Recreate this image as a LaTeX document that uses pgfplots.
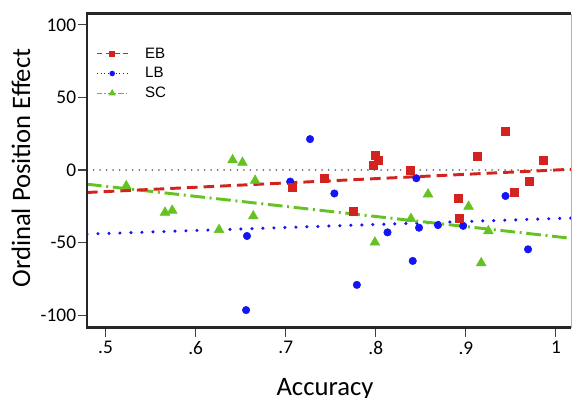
\documentclass[border=0pt]{standalone}
\usepackage{fontspec}
\setmainfont{Carlito}
\newfontfamily\legfont{Liberation Sans}
\usepackage{pgfplots}
\pgfplotsset{compat=1.18}
\definecolor{cEB}{RGB}{210,35,30}
\definecolor{cLB}{RGB}{20,20,245}
\definecolor{cSC}{RGB}{100,195,35}
\begin{document}
\begin{tikzpicture}
\begin{axis}[
  at={(0pt,0pt)}, anchor=south west,
  scale only axis, width=363pt, height=235.5pt,
  xmin=0.4794, xmax=1.0167, ymin=-108.6, ymax=107.9,
  clip mode=individual,
  axis line style={draw=none},
  xtick={0.5,0.6,0.7,0.8,0.9,1}, xticklabels={.5,.6,.7,.8,.9,1},
  ytick={-100,-50,0,50,100}, yticklabels={-100,-50,0,50,100},
  xtick pos=bottom, ytick pos=left, tick align=outside,
  major tick length=7pt,
  tick style={line width=0.8pt, black!75},
  ticklabel style={font=\fontsize{14.5}{17}\selectfont},
  yticklabel style={inner xsep=1pt},
  xlabel={Accuracy}, ylabel={Ordinal Position Effect},
  every axis x label/.style={at={(axis description cs:0.4917,-0.1608)}, anchor=north, inner sep=0pt, font=\fontsize{20}{24}\selectfont},
  every axis y label/.style={at={(axis description cs:-0.1364,0.508)}, anchor=center, rotate=90, inner sep=0pt, font=\fontsize{20}{24}\selectfont},
  legend image code/.code={\draw[mark repeat=2,mark phase=2] plot coordinates {(0pt,0pt) (11.5pt,0pt) (23pt,0pt)};},
  legend style={draw=none, fill=none, at={(axis description cs:0,1)}, anchor=north west, xshift=3.75pt, yshift=-23.4pt,
    font=\legfont\fontsize{11.3}{13}\selectfont, nodes={inner sep=0pt}, row sep=5.5pt,
    /tikz/every odd column/.append style={column sep=12.75pt}},
  legend cell align=left,
]
\addlegendimage{cEB, line width=0.9pt, dash pattern=on 4pt off 2.5pt, mark=square*, mark size=1.6pt, mark options={solid, fill=cEB, draw=cEB}}
\addlegendentry{EB}
\addlegendimage{cLB, line width=0.9pt, dash pattern=on 0.8pt off 2pt, mark=*, mark size=1.6pt, mark options={solid, fill=cLB, draw=cLB}}
\addlegendentry{LB}
\addlegendimage{cSC, line width=0.9pt, dash pattern=on 4pt off 1.5pt on 1pt off 1.5pt, mark=triangle*, mark size=2.3pt, mark options={solid, fill=cSC, draw=cSC}}
\addlegendentry{SC}

% zero line
\addplot[forget plot, black!55, line width=1.5pt, line cap=round, dash pattern=on 0pt off 4.9pt] coordinates {(0.4794,0) (1.0167,0)};
% regression lines
\addplot[forget plot, cLB, line width=2.6pt, line cap=round, dash pattern=on 0pt off 8.25pt] coordinates {(0.4794,-44.2) (1.0167,-33.1)};
\addplot[forget plot, cSC, line width=2.2pt, dash pattern=on 11pt off 3.5pt on 1.5pt off 3.5pt] coordinates {(0.4794,-9.8) (1.0167,-47.1)};
\addplot[forget plot, cEB, line width=2.2pt, dash pattern=on 8pt off 4.5pt] coordinates {(0.4794,-15.5) (1.0167,0.5)};

% LB points
\addplot[forget plot, only marks, mark=*, mark size=2.8pt, mark options={fill=cLB, draw=cLB}] coordinates {
(0.656,-96.6) (0.657,-45.5) (0.705,-8.0) (0.727,21.3) (0.754,-16.2) (0.779,-79.2) (0.813,-43.0)
(0.841,-62.7) (0.845,-5.7) (0.848,-39.8) (0.869,-38.0) (0.897,-38.5) (0.944,-17.9) (0.969,-54.7)};
% SC points
\addplot[forget plot, only marks, mark=triangle*, mark size=4.2pt, mark options={fill=cSC, draw=cSC}] coordinates {
(0.523,-11.0) (0.566,-29.3) (0.574,-27.9) (0.626,-41.2) (0.641,6.9) (0.652,5.1) (0.664,-31.8)
(0.666,-7.3) (0.799,-49.9) (0.839,-33.6) (0.858,-16.7) (0.903,-25.2) (0.917,-64.1) (0.925,-42.1)};
% EB points
\addplot[forget plot, only marks, mark=square*, mark size=3pt, mark options={fill=cEB, draw=cEB}] coordinates {
(0.707,-11.7) (0.743,-5.9) (0.775,-28.6) (0.797,3.2) (0.799,10.3) (0.803,6.7) (0.838,-0.4)
(0.892,-19.4) (0.893,-33.4) (0.913,9.4) (0.944,26.6) (0.954,-15.1) (0.970,-7.8) (0.986,6.7)};

% frame
\draw[line width=2pt, black!85, line join=miter] (rel axis cs:1,0) -- (rel axis cs:0,0) -- (rel axis cs:0,1) -- (rel axis cs:1,1);
\draw[black!30, line width=0.6pt] (rel axis cs:1,0) -- (rel axis cs:1,1);
\end{axis}
\pgfresetboundingbox
\useasboundingbox (-65.25pt,-52.125pt) rectangle (364.5pt,245.625pt);
\end{tikzpicture}
\end{document}
